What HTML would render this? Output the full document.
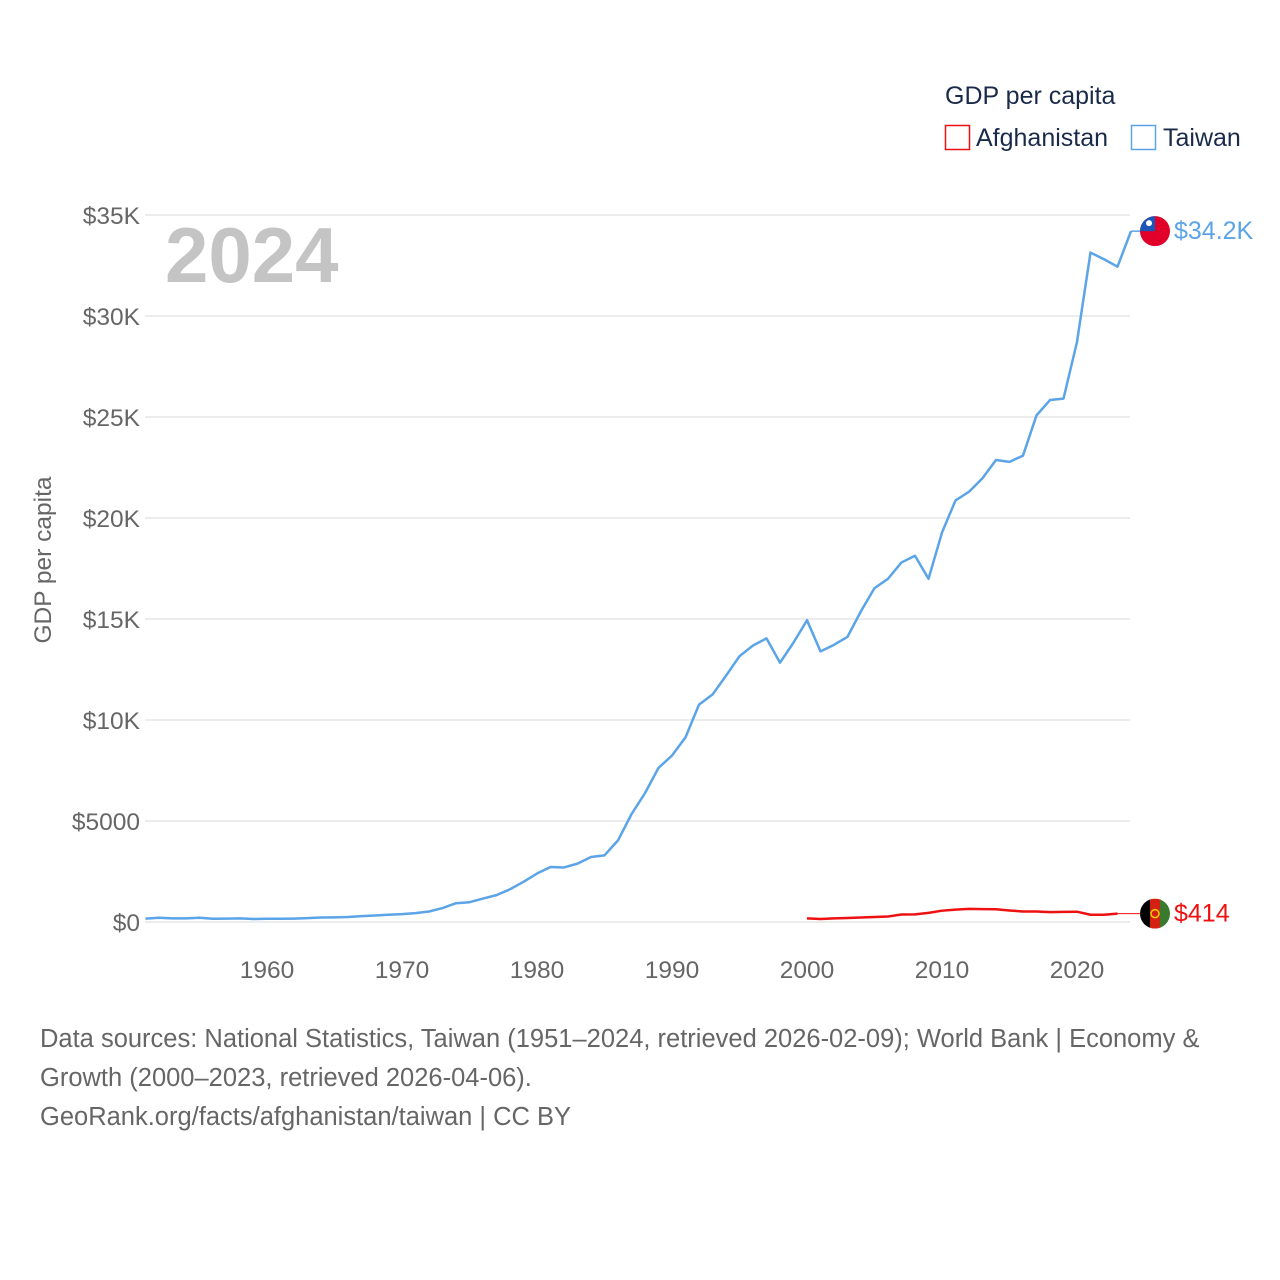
<!DOCTYPE html>
<html><head><meta charset="utf-8"><style>
body{margin:0;background:#fff;font-family:"Liberation Sans",sans-serif;}
#wrap{position:relative;width:1280px;height:1280px;overflow:hidden;}
.src{position:absolute;left:40px;font-size:25.5px;color:#666;}
</style></head><body>
<div id="wrap">
<svg id="chart" width="1280" height="1280"></svg>
<div class="src" style="top:1025px">Data sources: National Statistics, Taiwan (1951–2024, retrieved 2026-02-09); World Bank | Economy &amp;</div>
<div class="src" style="top:1064px">Growth (2000–2023, retrieved 2026-04-06).</div>
<div class="src" style="top:1103px">GeoRank.org/facts/afghanistan/taiwan | CC BY</div>
</div>
<script>
const yTicks=[0,5000,10000,15000,20000,25000,30000,35000];
const yTickLabels=["$0","$5000","$10K","$15K","$20K","$25K","$30K","$35K"];
const xTicks=[1960,1970,1980,1990,2000,2010,2020];
const twYears=[];for(let y=1951;y<=2024;y++)twYears.push(y);
const twValues=[170,210,180,180,210,160,170,180,150,160,160,170,190,220,230,250,290,320,360,390,440,520,690,930,980,1160,1330,1620,1990,2400,2720,2700,2890,3220,3300,4040,5340,6380,7630,8240,9140,10760,11260,12190,13160,13690,14040,12840,13830,14940,13400,13720,14120,15390,16530,16990,17800,18130,16990,19280,20870,21300,21970,22870,22780,23090,25080,25840,25910,28720,33140,32810,32440,34200];
const afYears=[];for(let y=2000;y<=2023;y++)afYears.push(y);
const afValues=[180,150,180,200,220,250,270,370,380,450,560,610,650,640,630,570,520,520,490,500,510,360,360,414];

const NS="http://www.w3.org/2000/svg";
const svg=document.getElementById('chart');
const X=yr=>145.5+(yr-1951)*13.5;
const Y=v=>922-v/5000*101;
function mk(tag,attrs,parent){const e=document.createElementNS(NS,tag);for(const k in attrs)e.setAttribute(k,attrs[k]);(parent||svg).appendChild(e);return e;}
function txt(s,attrs){const t=mk('text',attrs);t.textContent=s;return t;}

yTicks.forEach((v,i)=>{
  const g=mk('line',{x1:145,x2:1130,y1:Y(v),y2:Y(v),stroke:'#e6e6e6','stroke-width':1.5});
  
  
  const t=txt(yTickLabels[i],{x:140,y:Y(v)+9,'text-anchor':'end','font-size':24.5,fill:'#666'});
  
  
});
xTicks.forEach(yr=>{
  const t=txt(String(yr),{x:X(yr),y:978,'text-anchor':'middle','font-size':24.5,fill:'#666'});
  
  
});
const yl=txt('GDP per capita',{x:0,y:0,transform:'translate(51,560) rotate(-90)','text-anchor':'middle','font-size':24.5,fill:'#666'});


const yr=txt('2024',{x:165,y:282,'font-size':78,'font-weight':'bold',fill:'#c4c4c4'});



const tw=mk('polyline',{points:twYears.map((y,i)=>X(y)+','+Y(twValues[i])).join(' '),fill:'none',stroke:'#5ba4e8','stroke-width':2.5,'stroke-linejoin':'round'});


const af=mk('polyline',{points:afYears.map((y,i)=>X(y)+','+Y(afValues[i])).join(' '),fill:'none',stroke:'#ee1111','stroke-width':2.5,'stroke-linejoin':'round'});



const twLast=twValues[twValues.length-1], afLast=afValues[afValues.length-1];
const tc=mk('line',{x1:X(2024),x2:1142,y1:Y(twLast),y2:Y(twLast),stroke:'#5ba4e8','stroke-width':1.5});


const ac=mk('line',{x1:X(2023),x2:1142,y1:Y(afLast),y2:Y(afLast),stroke:'#ee1111','stroke-width':1});



const ty=Y(twLast);
const tf=mk('g',{});


const cp1=mk('clipPath',{id:'c1'},tf);mk('circle',{cx:1155,cy:ty,r:15},cp1);
mk('circle',{cx:1155,cy:ty,r:15,fill:'#e0002a'},tf);
mk('rect',{x:1140,y:ty-15,width:15,height:15,fill:'#1e56b8','clip-path':'url(#c1)'},tf);
mk('circle',{cx:1149,cy:ty-8,r:3,fill:'#fff'},tf);
const tl=txt('$'+(twLast/1000).toFixed(1)+'K',{x:1174,y:ty+8,'font-size':25,fill:'#5ba4e8'});



const ay=Y(afLast);
const afg=mk('g',{});


const cp=mk('clipPath',{id:'c2'},afg);mk('circle',{cx:1155,cy:ay,r:15},cp);
mk('rect',{x:1140,y:ay-15,width:10,height:30,fill:'#000','clip-path':'url(#c2)'},afg);
mk('rect',{x:1150,y:ay-15,width:10,height:30,fill:'#d32011','clip-path':'url(#c2)'},afg);
mk('rect',{x:1160,y:ay-15,width:10,height:30,fill:'#3a7a2e','clip-path':'url(#c2)'},afg);
mk('circle',{cx:1155,cy:ay,r:4,fill:'none',stroke:'#f5d000','stroke-width':1.5},afg);
const al=txt('$'+afLast,{x:1174,y:ay+8,'font-size':25,fill:'#ee1111'});



const lt=txt('GDP per capita',{x:945,y:104,'font-size':25,fill:'#1a2b4a'});


const l1=mk('rect',{x:945.5,y:125.5,width:24,height:24,fill:'none',stroke:'#ee1111','stroke-width':1.5});


const l1t=txt('Afghanistan',{x:976,y:146,'font-size':25,fill:'#1a2b4a'});


const l2=mk('rect',{x:1131.5,y:125.5,width:24,height:24,fill:'none',stroke:'#5ba4e8','stroke-width':1.5});


const l2t=txt('Taiwan',{x:1163,y:146,'font-size':25,fill:'#1a2b4a'});


</script>
</body></html>
